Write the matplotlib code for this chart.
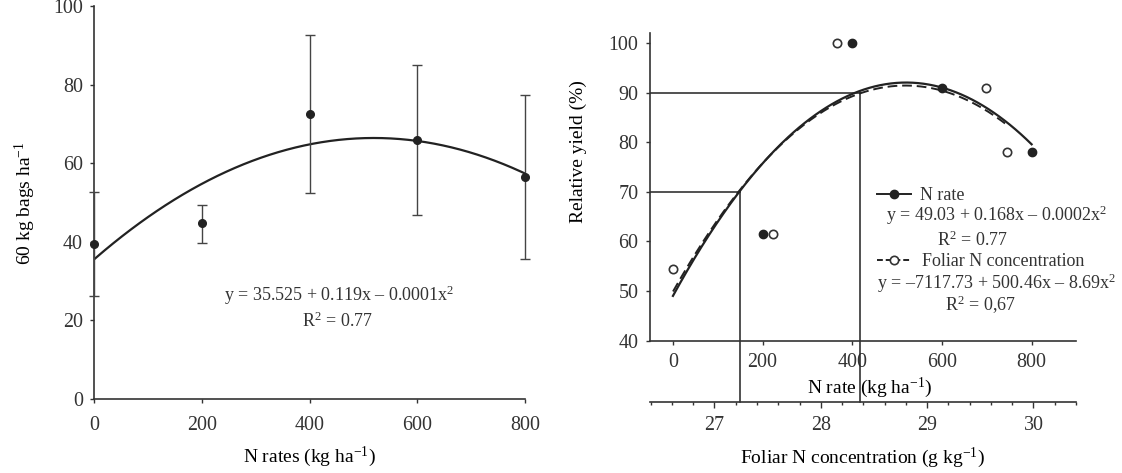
import numpy as np
import matplotlib
matplotlib.use("Agg")
import matplotlib.pyplot as plt
from matplotlib.lines import Line2D
from matplotlib.ticker import MultipleLocator

plt.rcParams['font.family'] = ['Liberation Serif', 'DejaVu Serif']
plt.rcParams['mathtext.fontset'] = 'custom'
plt.rcParams['mathtext.rm'] = 'Liberation Serif'
plt.rcParams['mathtext.it'] = 'Liberation Serif:italic'
plt.rcParams['text.color'] = '#333333'
plt.rcParams['axes.edgecolor'] = '#333333'
plt.rcParams['xtick.color'] = '#333333'
plt.rcParams['ytick.color'] = '#333333'

INK = '#222222'

# left panel: yield (60 kg bags/ha) vs N rate
n_rates = [0, 200, 400, 600, 800]
bags = [39.5, 44.8, 72.6, 66.0, 56.6]
bags_lo = [26.2, 39.7, 52.4, 46.8, 35.7]
bags_hi = [52.7, 49.4, 92.7, 84.9, 77.4]
bags_fit = [35.525, 0.119, -0.0001146]   # c0, c1, c2 of the drawn curve

# right panel: relative yield
rel_n = [200, 400, 600, 800]
rel_n_y = [61.5, 100, 91, 78]
rel_fit_n = [49.03, 0.1653, -0.0001589]
foliar = [26.61, 27.55, 28.15, 29.55, 29.75]
rel_f_y = [54.5, 61.5, 100, 91, 78]
rel_fit_f = [-7114.0, 500.46, -8.69]
ref_yield = [70, 90]
ref_n = [149.4, 418]

fig = plt.figure(figsize=(11.22, 4.73), dpi=100)

# ---------------- left
ax = fig.add_axes([0.0838, 0.1564, 0.3841, 0.8309])
xs = np.linspace(n_rates[0], n_rates[-1], 200)
ax.plot(xs, np.polyval(bags_fit[::-1], xs), color=INK, lw=1.6, zorder=3)
yerr = [np.array(bags) - np.array(bags_lo), np.array(bags_hi) - np.array(bags)]
ax.errorbar(n_rates, bags, yerr=yerr, fmt='o', color=INK, ms=5.5, ecolor='#444444',
            elinewidth=1.0, capsize=3.5, capthick=1.0, clip_on=False, zorder=4)
ax.set_xlim(0, 800)
ax.set_ylim(0, 100)
ax.set_xticks(n_rates)
ax.set_yticks([0, 20, 40, 60, 80, 100])
for s in ['top', 'right']:
    ax.spines[s].set_visible(False)
for s in ['left', 'bottom']:
    ax.spines[s].set_linewidth(1.2)
ax.tick_params(labelsize=14.4, length=3, width=1.0, direction='out')
ax.tick_params(axis='x', pad=9)
ax.tick_params(axis='y', pad=5)
ax.set_xlabel('N rates (kg ha$^{-1}$)', fontsize=14, va='center')
ax.xaxis.set_label_coords(0.499, -0.148)
ax.set_ylabel('60 kg bags ha$^{-1}$', fontsize=14, va='center')
ax.yaxis.set_label_coords(-0.160, 0.499)
ax.text(455, 26.5, 'y = 35.525 + 0.119x – 0.0001x$^2$', ha='center', va='center', fontsize=13)
ax.text(452, 19.8, 'R$^2$ = 0.77', ha='center', va='center', fontsize=13)

# ---------------- right
bx = fig.add_axes([0.5790, 0.2797, 0.3800, 0.6505])
bx.set_xlim(-52, 899)
bx.set_ylim(40, 102)
xs = np.linspace(0, 800, 200)
bx.plot(xs, np.polyval(rel_fit_n[::-1], xs), color=INK, lw=1.6, zorder=3)
bx.plot(rel_n, rel_n_y, 'o', color=INK, ms=6, clip_on=False, zorder=4)
bx.set_xticks([0, 200, 400, 600, 800])
bx.set_yticks([40, 50, 60, 70, 80, 90, 100])
for s in ['top', 'right']:
    bx.spines[s].set_visible(False)
for s in ['left', 'bottom']:
    bx.spines[s].set_linewidth(1.2)
bx.tick_params(labelsize=14.4, length=3, width=1.0, direction='out')
bx.tick_params(axis='x', pad=6)
bx.tick_params(axis='y', pad=5)
bx.set_xlabel('N rate (kg ha$^{-1}$)', fontsize=14, va='center')
bx.xaxis.set_label_coords(0.517, -0.154)
bx.set_ylabel('Relative yield (%)', fontsize=14, va='center')
bx.yaxis.set_label_coords(-0.168, 0.614)

# secondary axis: foliar N concentration
sec_pos = -0.200
cx = bx.twiny()
cx.set_xlim(26.39, 30.40)
cx.xaxis.set_ticks_position('bottom')
cx.xaxis.set_label_position('bottom')
cx.spines['bottom'].set_position(('axes', sec_pos))
cx.spines['bottom'].set_linewidth(1.2)
for s in ['top', 'right', 'left']:
    cx.spines[s].set_visible(False)
cx.set_xticks([27, 28, 29, 30])
cx.xaxis.set_minor_locator(MultipleLocator(0.2))
cx.tick_params(labelsize=14.4, length=4, width=1.0, direction='out', pad=6)
cx.tick_params(which='minor', length=2.5, width=1.0, direction='out')
cx.set_xlabel('Foliar N concentration (g kg$^{-1}$)', fontsize=14, va='center')
cx.xaxis.set_label_coords(0.500, -0.381)
fs = np.linspace(foliar[0], foliar[-1], 200)
cx.plot(fs, np.polyval(rel_fit_f[::-1], fs), color=INK, lw=1.4, ls=(0, (5, 2.5)), zorder=3)
cx.plot(foliar, rel_f_y, 'o', mfc='white', mec='#333333', mew=1.2, ms=6, clip_on=False, zorder=4)

# reference lines at 70 % and 90 %
y0, y1 = bx.get_ylim()
y_bottom = y0 + sec_pos * (y1 - y0)
for yv, xv in zip(ref_yield, ref_n):
    bx.plot([-52, xv], [yv, yv], color=INK, lw=1.1, zorder=2)
    bx.plot([xv, xv], [yv, y_bottom], color=INK, lw=1.1, zorder=2, clip_on=False)

# legends + equations
h1 = Line2D([], [], color=INK, lw=1.4, marker='o', ms=6)
h2 = Line2D([], [], color=INK, lw=1.4, ls=(0, (3, 1.5)), marker='o', mfc='white',
            mec='#333333', mew=1.2, ms=6)
leg1 = bx.legend([h1], ['N rate'], loc='center left', bbox_to_anchor=(0.533, 0.471),
                 frameon=False, borderpad=0, borderaxespad=0, handlelength=1.9,
                 handletextpad=0.5, fontsize=13)
bx.add_artist(leg1)
bx.legend([h2], ['Foliar N concentration'], loc='center left', bbox_to_anchor=(0.533, 0.257),
          frameon=False, borderpad=0, borderaxespad=0, handlelength=1.9,
          handletextpad=0.6, fontsize=13)
bx.text(0.814, 0.406, 'y = 49.03 + 0.168x – 0.0002x$^2$', transform=bx.transAxes,
        ha='center', va='center', fontsize=13)
bx.text(0.758, 0.327, 'R$^2$ = 0.77', transform=bx.transAxes, ha='center', va='center', fontsize=13)
bx.text(0.814, 0.1875, 'y = –7117.73 + 500.46x – 8.69x$^2$', transform=bx.transAxes,
        ha='center', va='center', fontsize=13)
bx.text(0.775, 0.116, 'R$^2$ = 0,67', transform=bx.transAxes, ha='center', va='center', fontsize=13)

fig.savefig('out.png', dpi=100)
